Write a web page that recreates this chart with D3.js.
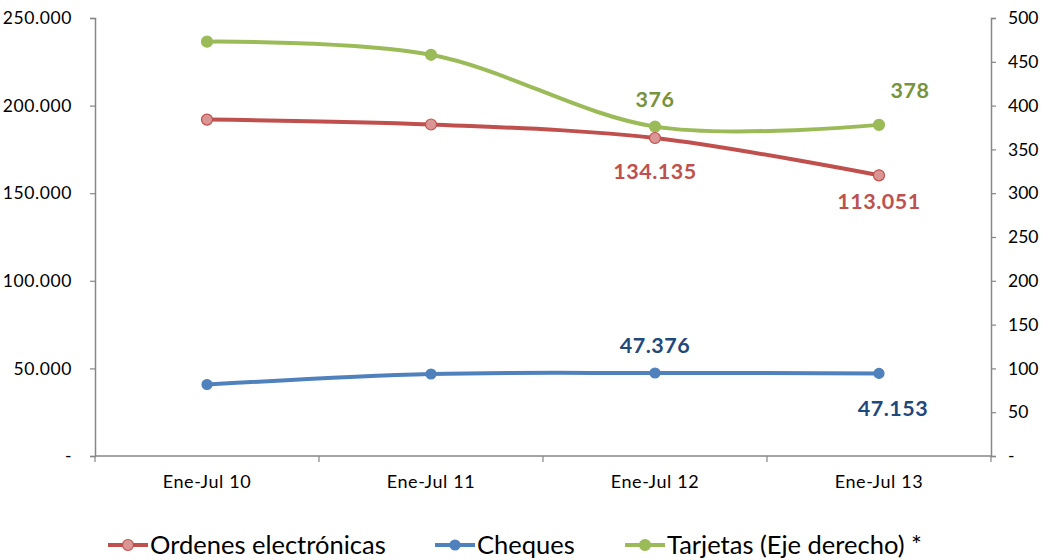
<!DOCTYPE html>
<html>
<head>
<meta charset="utf-8">
<script src="https://cdn.jsdelivr.net/npm/d3@7"></script>
<style>
  body { margin: 0; background: #fff; }
  svg { font-family: Lato, "Open Sans", sans-serif; }
</style>
</head>
<body>
<div id="chart"></div>
<script>
var categories = ["Ene-Jul 10", "Ene-Jul 11", "Ene-Jul 12", "Ene-Jul 13"]
var cheques = [40800, 46800, 47376, 47153]
var ordenes = [151200, 142400, 134135, 113051]
var tarjetas = [473, 458, 376, 378]
var leftTicks = [0, 50000, 100000, 150000, 200000, 250000]
var rightTicks = [0, 50, 100, 150, 200, 250, 300, 350, 400, 450, 500]

var width = 1044, height = 560
var margin = {top: 18, right: 53, bottom: 104, left: 95}

var svg = d3.select("#chart").append("svg")
  .attr("width", width)
  .attr("height", height)

var x = d3.scaleBand().domain(categories).range([margin.left, width - margin.right])
var yL = d3.scaleLinear().domain([0, 250000]).range([height - margin.bottom, margin.top])
var yR = d3.scaleLinear().domain([0, 500]).range([height - margin.bottom, margin.top])

var fmt = function(d) { return d === 0 ? "-" : d3.format(",")(d).replace(/,/g, ".") }

var axisColor = "#868686"

// axes
var gL = svg.append("g")
  .attr("transform", "translate(" + margin.left + ",0)")
  .call(d3.axisLeft(yL).tickValues(leftTicks).tickFormat(fmt).tickSize(5).tickPadding(18))
var gR = svg.append("g")
  .attr("transform", "translate(" + (width - margin.right) + ",0)")
  .call(d3.axisRight(yR).tickValues(rightTicks).tickFormat(fmt).tickSize(5).tickPadding(12))
var gX = svg.append("g")
  .attr("transform", "translate(0," + (height - margin.bottom) + ")")
  .call(d3.axisBottom(x).tickSize(0).tickPadding(19))

;[gL, gR, gX].forEach(function(g) {
  g.selectAll("path.domain").attr("stroke", axisColor).attr("stroke-width", 1.5)
  g.selectAll("line").attr("stroke", axisColor).attr("stroke-width", 1.2)
  g.selectAll("text").attr("fill", "#000").style("font-size", "17.5px").style("font-family", "Lato, sans-serif")
})
gL.selectAll("text").style("letter-spacing", "0.6px")
gX.selectAll("text").style("font-size", "18px").style("letter-spacing", "0.6px")
gX.select("path.domain").attr("d", "M" + margin.left + ",0H" + (width - margin.right))

// x boundary ticks
var bounds = categories.map(function(c) { return x(c) }).concat([width - margin.right])
gX.selectAll("line.bt").data(bounds).enter().append("line")
  .attr("class", "bt")
  .attr("x1", function(d) { return d }).attr("x2", function(d) { return d })
  .attr("y1", 0).attr("y2", 6)
  .attr("stroke", axisColor).attr("stroke-width", 1.2)

var cx = function(i) { return x(categories[i]) + x.bandwidth() / 2 }
var stacked = ordenes.map(function(v, i) { return v + cheques[i] })

var series = [
  {name: "Ordenes electrónicas", values: stacked, y: yL, color: "#C0504D", fill: "#D99694", r: 5.5, labels: ordenes, labelColor: "#C0504D"},
  {name: "Cheques", values: cheques, y: yL, color: "#4F81BD", fill: "#4F81BD", r: 5, labels: cheques, labelColor: "#1F497D"},
  {name: "Tarjetas (Eje derecho) *", values: tarjetas, y: yR, color: "#9BBB59", fill: "#9BBB59", r: 5.5, labels: tarjetas, labelColor: "#77933C"}
]

var line = d3.line().curve(d3.curveCatmullRom.alpha(0))

// draw green first, then red, then blue
;[series[2], series[0], series[1]].forEach(function(s) {
  var pts = s.values.map(function(v, i) { return [cx(i), s.y(v)] })
  svg.append("path")
    .attr("d", line(pts))
    .attr("fill", "none")
    .attr("stroke", s.color)
    .attr("stroke-width", 4)
  svg.append("g").selectAll("circle").data(pts).enter().append("circle")
    .attr("cx", function(d) { return d[0] })
    .attr("cy", function(d) { return d[1] })
    .attr("r", s.r)
    .attr("fill", s.fill)
    .attr("stroke", s.color)
    .attr("stroke-width", 1.2)
})

// data labels (only last two categories)
var labelOffsets = {
  "Ordenes electrónicas": [[0, 41], [0, 34]],
  "Cheques": [[0, -20], [14, 43]],
  "Tarjetas (Eje derecho) *": [[0, -20], [31, -27]]
}
series.forEach(function(s) {
  [2, 3].forEach(function(i, k) {
    var off = labelOffsets[s.name][k]
    svg.append("text")
      .attr("x", cx(i) + off[0])
      .attr("y", s.y(s.values[i]) + off[1])
      .attr("text-anchor", "middle")
      .attr("fill", s.labelColor)
      .style("font-size", "21.5px")
      .style("font-weight", "bold")
      .style("letter-spacing", "0.5px")
      .text(fmt(s.labels[i]))
  })
})

// legend
var legendX = [108, 435, 625]
var legendY = 545
series.forEach(function(s, i) {
  var g = svg.append("g").attr("transform", "translate(" + legendX[i] + "," + legendY + ")")
  g.append("line").attr("x1", 0).attr("x2", 40).attr("y1", 0).attr("y2", 0)
    .attr("stroke", s.color).attr("stroke-width", 4)
  g.append("circle").attr("cx", 20).attr("cy", 0).attr("r", s.r)
    .attr("fill", s.fill).attr("stroke", s.color).attr("stroke-width", 1.2)
  g.append("text").attr("x", 42).attr("y", 9)
    .style("font-size", "25.5px")
    .attr("fill", "#000")
    .text(s.name)
})
</script>
</body>
</html>
